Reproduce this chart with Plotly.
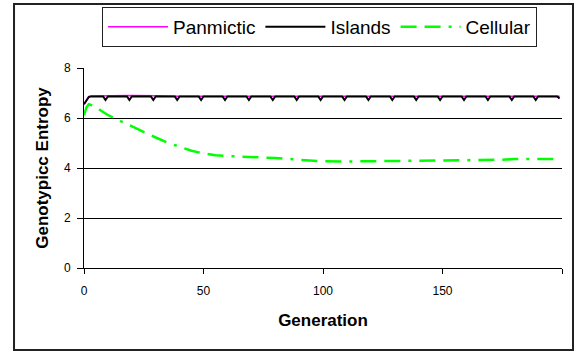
import plotly.graph_objects as go

# ---- data ----
panmictic_gen = [0, 1, 2, 3, 10, 20, 30, 40, 60, 80, 100, 120, 140, 160, 180, 199]
panmictic_val = [6.55, 6.72, 6.86, 6.88, 6.9, 6.9, 6.89, 6.87, 6.87, 6.87, 6.87, 6.87, 6.87, 6.87, 6.87, 6.87]

islands_gen = [0, 1, 2, 3,
               8, 9, 10, 18, 19, 20, 28, 29, 30, 38, 39, 40, 48, 49, 50,
               58, 59, 60, 68, 69, 70, 78, 79, 80, 88, 89, 90, 98, 99, 100,
               108, 109, 110, 118, 119, 120, 128, 129, 130, 138, 139, 140,
               148, 149, 150, 158, 159, 160, 168, 169, 170, 178, 179, 180,
               188, 189, 190, 198, 199]
islands_val = [6.55, 6.72, 6.84, 6.865,
               6.865, 6.72, 6.865, 6.865, 6.72, 6.865, 6.865, 6.72, 6.865,
               6.865, 6.72, 6.865, 6.865, 6.72, 6.865,
               6.865, 6.72, 6.865, 6.865, 6.72, 6.865, 6.865, 6.72, 6.865,
               6.865, 6.72, 6.865, 6.865, 6.72, 6.865,
               6.865, 6.72, 6.865, 6.865, 6.72, 6.865, 6.865, 6.72, 6.865,
               6.865, 6.72, 6.865,
               6.865, 6.72, 6.865, 6.865, 6.72, 6.865, 6.865, 6.72, 6.865,
               6.865, 6.72, 6.865,
               6.865, 6.72, 6.865, 6.865, 6.78]

cellular_gen = [0, 1, 2, 3, 5, 7, 10, 13, 16, 20, 25, 30, 35, 40, 45, 50, 55, 60,
                70, 80, 90, 100, 110, 120, 130, 140, 150, 160, 170, 175, 180, 190, 199]
cellular_val = [6.1, 6.42, 6.55, 6.52, 6.45, 6.3, 6.12, 5.98, 5.84, 5.66, 5.44, 5.22,
                5.01, 4.84, 4.69, 4.58, 4.51, 4.48, 4.45, 4.4, 4.33, 4.27, 4.26, 4.27,
                4.27, 4.27, 4.28, 4.29, 4.3, 4.33, 4.36, 4.36, 4.36]

x_tickvals = [0, 50, 100, 150, 200]
x_ticktext = ["0", "50", "100", "150", ""]
y_tickvals = [0, 2, 4, 6, 8]
y_gridvals = [2, 4, 6]

FONT = "Liberation Sans, Arial, sans-serif"

fig = go.Figure()
fig.add_trace(go.Scatter(x=panmictic_gen, y=panmictic_val, mode="lines", name="Panmictic",
                         line=dict(color="#ff00ff", width=1.5)))
fig.add_trace(go.Scatter(x=islands_gen, y=islands_val, mode="lines", name="Islands",
                         line=dict(color="#000000", width=2)))
fig.add_trace(go.Scatter(x=cellular_gen, y=cellular_val, mode="lines", name="Cellular",
                         line=dict(color="#00ff00", width=2.5,
                                   dash="16px,8px,16px,8px,3px,8px")))

fig.update_layout(
    width=576, height=353,
    margin=dict(l=84, r=14, t=68, b=85, autoexpand=False),
    paper_bgcolor="white", plot_bgcolor="white",
    font=dict(family=FONT, color="black", size=12),
    showlegend=True,
    legend=dict(orientation="h", x=0.0377, y=1.305, xanchor="left", yanchor="top",
                bordercolor="#222", borderwidth=1, font=dict(size=19, family=FONT),
                bgcolor="white", itemwidth=60),
    xaxis=dict(range=[0, 200], tickvals=x_tickvals, ticktext=x_ticktext,
               showgrid=False, zeroline=False, showline=True, linecolor="black", linewidth=1,
               ticks="outside", ticklen=5, tickcolor="black", ticklabelstandoff=7,
               tickfont=dict(size=12),
               title=dict(text="<b>Generation</b>", font=dict(size=17), standoff=16)),
    yaxis=dict(range=[0, 8], tickvals=y_tickvals, showgrid=False, zeroline=False,
               showline=True, linecolor="black", linewidth=1,
               ticks="outside", ticklen=6, tickcolor="black", ticklabelstandoff=4,
               tickfont=dict(size=12),
               minor=dict(tickvals=y_gridvals, showgrid=True, gridcolor="black", gridwidth=1,
                          ticks=""),
               title=dict(text="<b>Genotypicc Entropy</b>", font=dict(size=17), standoff=10)),
    shapes=[dict(type="rect", xref="paper", yref="paper",
                 x0=-0.1464, x1=1.023, y0=-0.41, y1=1.32,
                 line=dict(color="#222", width=2), layer="below")],
)

fig.write_html("out.html")
